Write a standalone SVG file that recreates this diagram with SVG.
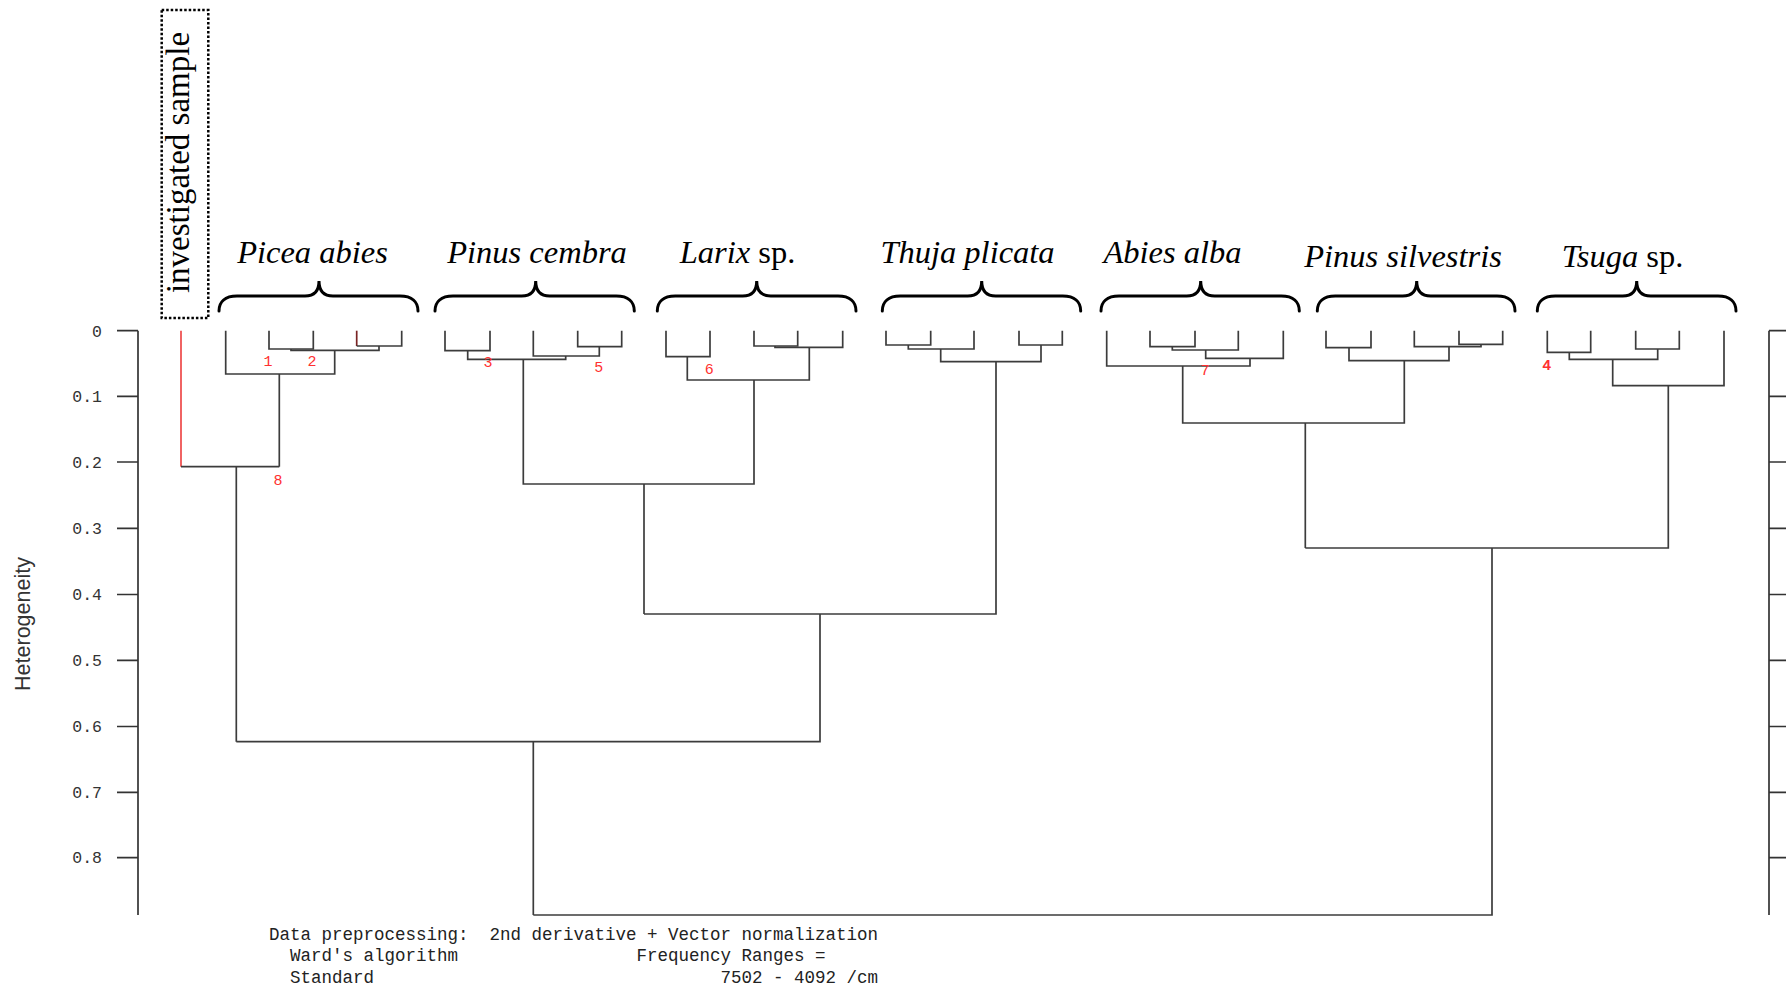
<svg xmlns="http://www.w3.org/2000/svg" width="1786" height="985" viewBox="0 0 1786 985">
  <style>
    .axis { stroke: #333; stroke-width: 1.7; fill: none; }
    .tick-label { font-family: "Liberation Mono", monospace; font-size: 16.5px; fill: #333; text-anchor: end; }
    .branch { stroke: #3c3c3c; stroke-width: 1.7; fill: none; }
    .branch-red { stroke: #ee4848; stroke-width: 1.7; fill: none; }
    .branch-dark-red { stroke: #7a2424; stroke-width: 1.7; fill: none; }
    .brace { stroke: #000; stroke-width: 3; fill: none; stroke-linecap: round; }
    .species { font-family: "Liberation Serif", "Times New Roman", serif; font-size: 32.5px; font-style: italic; fill: #000; text-anchor: middle; }
    .upright { font-style: normal; }
    .num { font-family: "Liberation Mono", monospace; font-size: 15px; fill: #ff3030; text-anchor: middle; }
    .footer { font-family: "Liberation Mono", "Courier New", monospace; font-size: 17.5px; fill: #222; }
  </style>

  <!-- left heterogeneity axis -->
  <g id="axis-left">
    <path class="axis" d="M138,330.7 V915"/>
    <path class="axis" d="M117,330.7 H138 M117,396.3 H138 M117,462 H138 M117,528.3 H138 M117,594.5 H138 M117,660.3 H138 M117,726.5 H138 M117,792.3 H138 M117,857.7 H138"/>
    <text class="tick-label" x="102" y="336.5">0</text>
    <text class="tick-label" x="102" y="402">0.1</text>
    <text class="tick-label" x="102" y="467.7">0.2</text>
    <text class="tick-label" x="102" y="534">0.3</text>
    <text class="tick-label" x="102" y="600.2">0.4</text>
    <text class="tick-label" x="102" y="666">0.5</text>
    <text class="tick-label" x="102" y="732.2">0.6</text>
    <text class="tick-label" x="102" y="798">0.7</text>
    <text class="tick-label" x="102" y="863.4">0.8</text>
    <text transform="translate(29.5,624) rotate(-90)" font-family="Liberation Sans, Arial, sans-serif" font-size="21.5" fill="#333" text-anchor="middle">Heterogeneity</text>
  </g>

  <!-- right axis -->
  <g id="axis-right">
    <path class="axis" d="M1769,330.7 V915"/>
    <path class="axis" d="M1769,330.7 H1786 M1769,396.3 H1786 M1769,462 H1786 M1769,528.3 H1786 M1769,594.5 H1786 M1769,660.3 H1786 M1769,726.5 H1786 M1769,792.3 H1786 M1769,857.7 H1786"/>
  </g>

  <!-- sample label -->
  <g id="investigated-sample">
    <rect x="161.7" y="10" width="46.6" height="308" fill="none" stroke="#000" stroke-width="2.5" stroke-dasharray="2.5 2"/>
    <text transform="translate(189,162.5) rotate(-90)" font-family="Liberation Serif, Times New Roman, serif" font-size="33" fill="#000" text-anchor="middle">investigated sample</text>
  </g>

  <!-- species groups: brace + name -->
  <g id="picea-abies">
    <path class="brace" d="M219,311 C219,302 225,296 237,296 H305 C314,296 319,291 319,281 C319,291 324,296 333,296 H400 C412,296 418,302 418,311"/>
    <text class="species" x="312.5" y="263.3">Picea abies</text>
  </g>
  <g id="pinus-cembra">
    <path class="brace" d="M435,311 C435,302 441,296 453,296 H521.7 C530.7,296 535.7,291 535.7,281 C535.7,291 540.7,296 549.7,296 H616.3 C628.3,296 634.3,302 634.3,311"/>
    <text class="species" x="537" y="263.3">Pinus cembra</text>
  </g>
  <g id="larix">
    <path class="brace" d="M657.3,311 C657.3,302 663.3,296 675.3,296 H742.7 C751.7,296 756.7,291 756.7,281 C756.7,291 761.7,296 770.7,296 H838 C850,296 856,302 856,311"/>
    <text class="species" x="737.5" y="263.3">Larix<tspan class="upright"> sp.</tspan></text>
  </g>
  <g id="thuja-plicata">
    <path class="brace" d="M882.3,311 C882.3,302 888.3,296 900.3,296 H967.7 C976.7,296 981.7,291 981.7,281 C981.7,291 986.7,296 995.7,296 H1062.7 C1074.7,296 1080.7,302 1080.7,311"/>
    <text class="species" x="967.5" y="263.3">Thuja plicata</text>
  </g>
  <g id="abies-alba">
    <path class="brace" d="M1101,311 C1101,302 1107,296 1119,296 H1186.7 C1195.7,296 1200.7,291 1200.7,281 C1200.7,291 1205.7,296 1214.7,296 H1281.3 C1293.3,296 1299.3,302 1299.3,311"/>
    <text class="species" x="1172.5" y="263.3">Abies alba</text>
  </g>
  <g id="pinus-silvestris">
    <path class="brace" d="M1317.3,311 C1317.3,302 1323.3,296 1335.3,296 H1402.7 C1411.7,296 1416.7,291 1416.7,281 C1416.7,291 1421.7,296 1430.7,296 H1497 C1509,296 1515,302 1515,311"/>
    <text class="species" x="1403" y="266.7">Pinus silvestris</text>
  </g>
  <g id="tsuga">
    <path class="brace" d="M1537.3,311 C1537.3,302 1543.3,296 1555.3,296 H1622.7 C1631.7,296 1636.7,291 1636.7,281 C1636.7,291 1641.7,296 1650.7,296 H1718 C1730,296 1736,302 1736,311"/>
    <text class="species" x="1622.5" y="266.7">Tsuga<tspan class="upright"> sp.</tspan></text>
  </g>

  <!-- dendrogram branches -->
  <g id="connectors">
    <!-- investigated sample -->
    <path class="branch-red" d="M181,330.7 V466.7"/>
    <path class="branch" d="M181,466.7 H279.3"/>
    <!-- Picea abies -->
    <path class="branch" d="M269,330.7 V349 H313.3 V330.7"/>
    <path class="branch-dark-red" d="M356.7,330.7 V346"/>
    <path class="branch" d="M356.7,346 H401.7 V330.7"/>
    <path class="branch" d="M291,349 V350.3 H379 V346"/>
    <path class="branch" d="M225.7,330.7 V374 H334.7 V350.3"/>
    <path class="branch" d="M279.3,374 V466.7"/>
    <path class="branch" d="M236.3,466.7 V741.7"/>
    <!-- Pinus cembra -->
    <path class="branch" d="M445,330.7 V350.7 H490 V330.7"/>
    <path class="branch" d="M577.7,330.7 V346.7 H621.7 V330.7"/>
    <path class="branch" d="M533.3,330.7 V356 H599.3 V346.7"/>
    <path class="branch" d="M467.7,350.7 V359.3 H565.7 V356"/>
    <!-- Larix -->
    <path class="branch" d="M666,330.7 V356.7 H710 V330.7"/>
    <path class="branch" d="M754,330.7 V346 H797.7 V330.7"/>
    <path class="branch" d="M775,346 V347.3 H842.7 V330.7"/>
    <path class="branch" d="M687.3,356.7 V380 H809.3 V347.3"/>
    <path class="branch" d="M523.3,359.3 V484 H754 V380"/>
    <path class="branch" d="M644,484 V614"/>
    <!-- Thuja plicata -->
    <path class="branch" d="M886,330.7 V345 H930.7 V330.7"/>
    <path class="branch" d="M908.3,345 V349 H974 V330.7"/>
    <path class="branch" d="M1019,330.7 V345 H1062.3 V330.7"/>
    <path class="branch" d="M940.7,349 V361.7 H1041 V345"/>
    <path class="branch" d="M644,614 H996 V361.7"/>
    <path class="branch" d="M236.3,741.7 H820 V614"/>
    <path class="branch" d="M533.3,741.7 V915"/>
    <!-- Abies alba -->
    <path class="branch" d="M1150,330.7 V346.7 H1195 V330.7"/>
    <path class="branch" d="M1172.3,346.7 V350 H1238.3 V330.7"/>
    <path class="branch" d="M1205.7,350 V358.3 H1283.3 V330.7"/>
    <path class="branch" d="M1106.7,330.7 V366 H1250 V358.3"/>
    <!-- Pinus silvestris -->
    <path class="branch" d="M1326,330.7 V347.7 H1371 V330.7"/>
    <path class="branch" d="M1459,330.7 V344.3 H1502.7 V330.7"/>
    <path class="branch" d="M1414.3,330.7 V346.7 H1481 V344.3"/>
    <path class="branch" d="M1349,347.7 V360.7 H1449 V346.7"/>
    <path class="branch" d="M1182.7,366 V423 H1404.3 V360.7"/>
    <path class="branch" d="M1305.3,423 V548"/>
    <!-- Tsuga -->
    <path class="branch" d="M1547.3,330.7 V352.3 H1590.7 V330.7"/>
    <path class="branch" d="M1635.7,330.7 V349 H1679.3 V330.7"/>
    <path class="branch" d="M1569.3,352.3 V359.3 H1657.7 V349"/>
    <path class="branch" d="M1612.7,359.3 V385.7 H1724 V330.7"/>
    <path class="branch" d="M1305.3,548 H1668.3 V385.7"/>
    <!-- root -->
    <path class="branch" d="M533.3,915 H1492 V548"/>
  </g>

  <!-- cluster numbers -->
  <g id="cluster-numbers">
    <text class="num" x="268" y="365.5">1</text>
    <text class="num" x="312" y="365.5">2</text>
    <text class="num" x="488" y="367.2">3</text>
    <text class="num" x="1546.7" y="369.5" font-family="Liberation Serif, serif" font-weight="bold">4</text>
    <text class="num" x="598.7" y="372.2">5</text>
    <text class="num" x="709.3" y="373.8">6</text>
    <text class="num" x="1205" y="374.8">7</text>
    <text class="num" x="278" y="484.5">8</text>
  </g>

  <!-- processing notes -->
  <g id="footer">
    <text class="footer" x="269" y="939.5">Data preprocessing:</text>
    <text class="footer" x="489.5" y="939.5">2nd derivative + Vector normalization</text>
    <text class="footer" x="290" y="961">Ward's algorithm</text>
    <text class="footer" x="636.5" y="961">Frequency Ranges =</text>
    <text class="footer" x="290" y="982.5">Standard</text>
    <text class="footer" x="720.5" y="982.5">7502 - 4092 /cm</text>
  </g>
</svg>
